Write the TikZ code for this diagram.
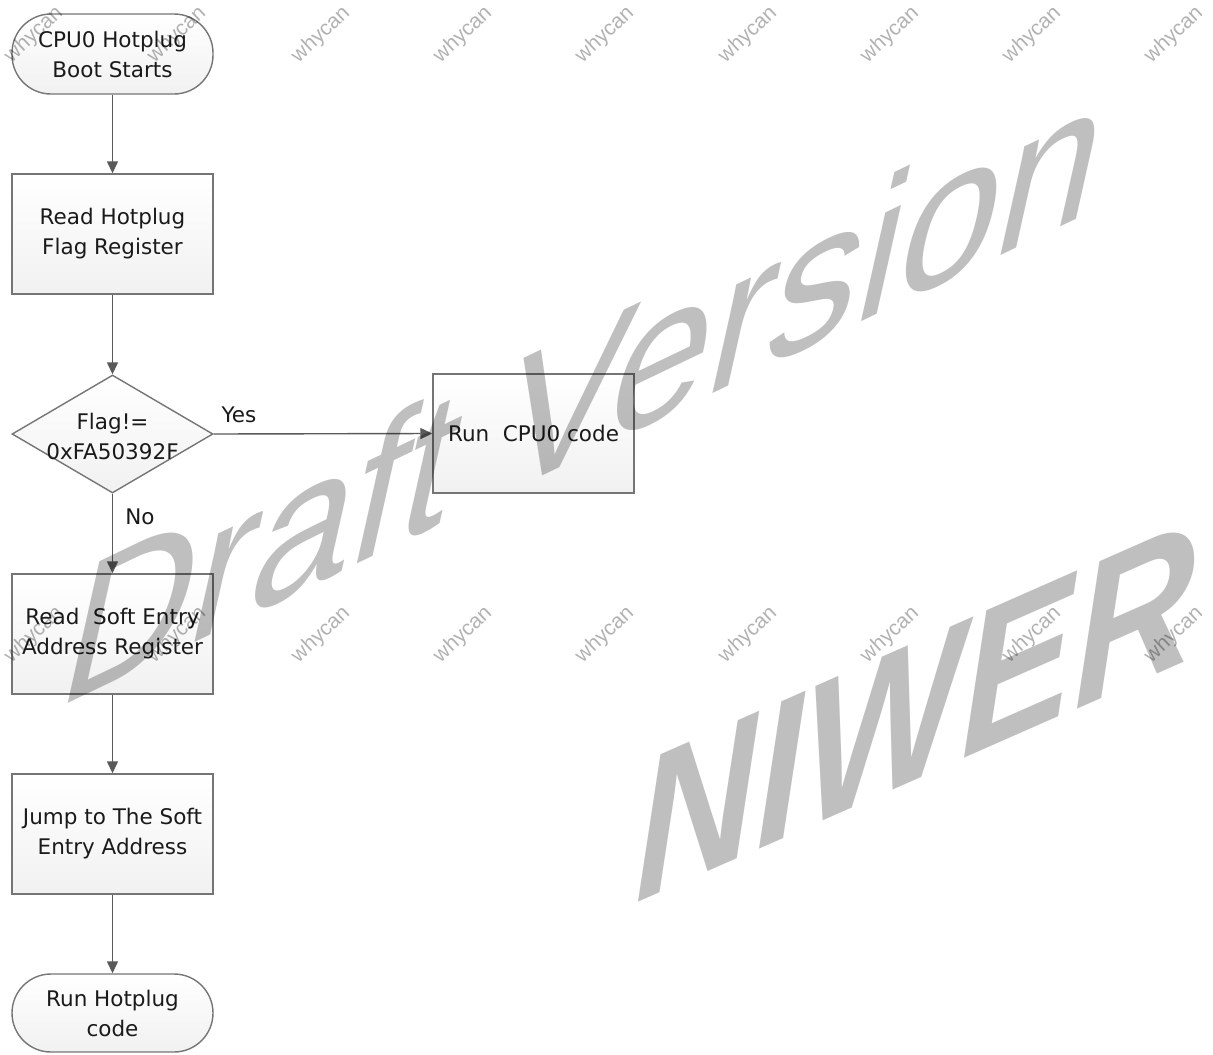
\documentclass[tikz,border=0pt]{standalone}
\usepackage{fontspec}
\setmainfont{DejaVu Sans}
\newfontfamily\wmfont{Liberation Sans}
\usetikzlibrary{arrows.meta,shapes.geometric}
\definecolor{edgec}{HTML}{757575}
\definecolor{arrc}{HTML}{5A5A5A}
\definecolor{txtc}{HTML}{1A1A1A}
\begin{document}
\begin{tikzpicture}[x=1pt,y=1pt,
  box/.style={draw=edgec, line width=1.4pt, top color=white, bottom color=gray!11,
    minimum width=201pt, minimum height=120pt, inner sep=0pt, align=center,
    font=\fontsize{21.5}{30}\selectfont, text=txtc},
  term/.style={box, rounded corners=39pt, minimum height=80pt},
  dia/.style={draw=edgec, line width=1.4pt, top color=white, bottom color=gray!11,
    shape=diamond, minimum width=201pt, minimum height=118pt, inner sep=0pt},
  lbl/.style={align=center, font=\fontsize{21.5}{30}\selectfont, text=txtc, inner sep=0pt},
  flow/.style={draw=arrc, line width=1.4pt, -{Triangle[length=12pt,width=11pt]}},
  wm/.style={font=\wmfont\fontsize{21}{21}\selectfont, text=black, text opacity=0.3, inner sep=0pt, rotate=43}
]
\useasboundingbox (0,0) rectangle (1213,-1055);
\fill[white] (0,0) rectangle (1213,-1055);

\node[term] (s) at (112.5,-54) {CPU0 Hotplug\\Boot Starts};
\node[box] (r1) at (112.5,-234) {Read Hotplug\\Flag Register};
\node[dia] (d) at (112.5,-434) {};
\node[lbl] (dt) at (112.5,-436) {Flag!=\\0xFA50392F};
\node[box, minimum height=119pt] (c) at (533.5,-433.5) {Run\ \ CPU0 code};
\node[box] (r2) at (112.5,-634) {Read\ \ Soft Entry\\Address Register};
\node[box] (r3) at (112.5,-834) {Jump to The Soft\\Entry Address};
\node[term, minimum height=78pt] (e) at (112.5,-1013) {Run Hotplug\\code};

\node[lbl] (yes) at (239,-415) {Yes};
\node[lbl] (no) at (140,-517) {No};

\draw[flow] (s) -- (r1);
\draw[flow] (r1) -- (d);
\draw[flow] (d.east) -- (c.west);
\draw[flow] (d.south) -- (r2);
\draw[flow] (r2) -- (r3);
\draw[flow] (r3) -- (e);

% watermarks
\begin{scope}[cm={17.9,8.6,4.6,20.6,(50pt,-712pt)}]
  \node[transform shape, anchor=base west, inner sep=0pt, text=black, text opacity=0.25,
    font=\wmfont\fontsize{10}{10}\selectfont] (dv) at (0,0) {Draft Version};
\end{scope}
\begin{scope}[cm={16.8,7.4,0,20.0,(632pt,-905pt)}]
  \node[transform shape, anchor=base west, inner sep=0pt, text=black, text opacity=0.25,
    font=\wmfont\bfseries\itshape\fontsize{10}{10}\selectfont] (nw) at (0,0) {NIWER};
\end{scope}
\foreach \n/\xx in {1/34,2/177,3/321,4/463,5/605,6/748,7/890,8/1032,9/1174}{
  \node[wm] (wa\n) at (\xx,-35) {whycan};
  \node[wm] (wb\n) at (\xx,-635) {whycan};
}
\end{tikzpicture}
\end{document}
